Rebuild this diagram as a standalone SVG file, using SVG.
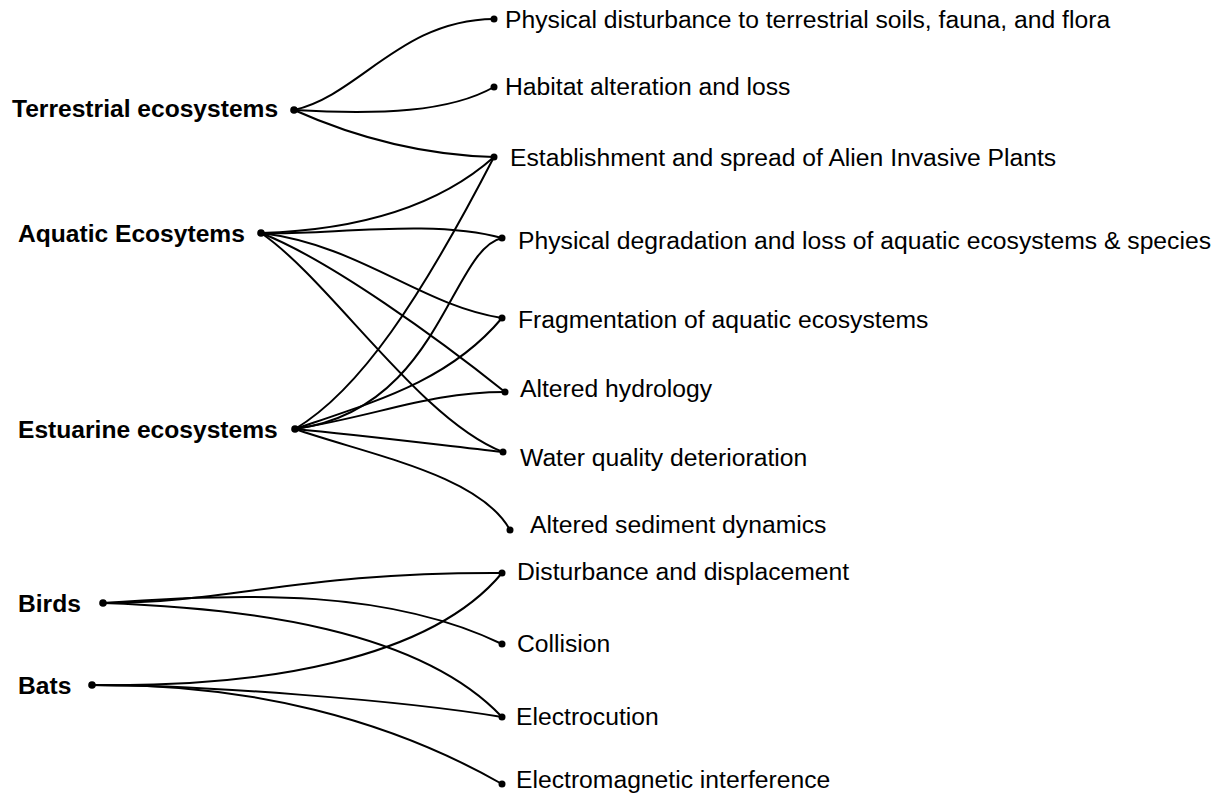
<svg xmlns="http://www.w3.org/2000/svg" width="1225" height="796" viewBox="0 0 1225 796">
<style>
.bg{fill:#fff}
.src text{font-family:"Liberation Sans",Arial,sans-serif;font-size:24.6px;font-weight:bold;fill:#000}
.tgt text{font-family:"Liberation Sans",Arial,sans-serif;font-size:24.7px;fill:#000}
.dot{fill:#000}
#connectors path{fill:none;stroke:#000;stroke-width:2}
</style>
<rect class="bg" x="0" y="0" width="1225" height="796"/>
<g id="connectors">
<path d="M294,110 C360,95 400,20 494,19"/>
<path d="M294,110 C380,115 450,112 494,87"/>
<path d="M294,110 C350,135 420,155 494,157"/>
<path d="M261,233 C360,230 440,205 494,157"/>
<path d="M261,233 C320,236 430,218 502,238"/>
<path d="M261,233 C360,245 420,305 502,318"/>
<path d="M261,233 C330,260 440,340 505,392"/>
<path d="M261,233 C330,280 420,420 503,452"/>
<path d="M295,429 C360,390 420,300 494,157"/>
<path d="M295,429 C440,410 450,250 502,238"/>
<path d="M295,429 C380,400 450,380 502,318"/>
<path d="M295,429 C380,415 430,392 505,392"/>
<path d="M295,429 C360,435 440,445 503,452"/>
<path d="M295,429 C370,455 480,475 510,530"/>
<path d="M103,603 C230,603 300,572 502,573"/>
<path d="M103,603 C250,592 390,590 502,644"/>
<path d="M103,603 C250,608 420,630 502,717"/>
<path d="M92,685 C260,688 430,660 502,573"/>
<path d="M92,685 C200,685 400,700 502,717"/>
<path d="M92,685 C250,683 390,720 502,784"/>
</g>
<g id="n-terrestrial" class="src"><text x="12" y="117">Terrestrial ecosystems</text><circle class="dot" cx="294" cy="110" r="3.8"/></g>
<g id="n-aquatic" class="src"><text x="18" y="242">Aquatic Ecosytems</text><circle class="dot" cx="261" cy="233" r="3.8"/></g>
<g id="n-estuarine" class="src"><text x="18" y="438">Estuarine ecosystems</text><circle class="dot" cx="295" cy="429" r="3.8"/></g>
<g id="n-birds" class="src"><text x="18" y="612">Birds</text><circle class="dot" cx="103" cy="603" r="3.8"/></g>
<g id="n-bats" class="src"><text x="18" y="694">Bats</text><circle class="dot" cx="92" cy="685" r="3.8"/></g>
<g id="t-physdist" class="tgt"><circle class="dot" cx="494" cy="19" r="3.5"/><text x="505" y="28">Physical disturbance to terrestrial soils, fauna, and flora</text></g>
<g id="t-habitat" class="tgt"><circle class="dot" cx="494" cy="87" r="3.5"/><text x="505" y="95">Habitat alteration and loss</text></g>
<g id="t-establish" class="tgt"><circle class="dot" cx="494" cy="157" r="3.5"/><text x="510" y="166">Establishment and spread of Alien Invasive Plants</text></g>
<g id="t-physdeg" class="tgt"><circle class="dot" cx="502" cy="238" r="3.5"/><text x="518" y="249">Physical degradation and loss of aquatic ecosystems &amp; species</text></g>
<g id="t-frag" class="tgt"><circle class="dot" cx="502" cy="318" r="3.5"/><text x="518" y="328">Fragmentation of aquatic ecosystems</text></g>
<g id="t-hydro" class="tgt"><circle class="dot" cx="505" cy="392" r="3.5"/><text x="520" y="397">Altered hydrology</text></g>
<g id="t-water" class="tgt"><circle class="dot" cx="503" cy="452" r="3.5"/><text x="520" y="466">Water quality deterioration</text></g>
<g id="t-sediment" class="tgt"><circle class="dot" cx="510" cy="530" r="3.5"/><text x="530" y="533">Altered sediment dynamics</text></g>
<g id="t-disturb" class="tgt"><circle class="dot" cx="502" cy="573" r="3.5"/><text x="517" y="580">Disturbance and displacement</text></g>
<g id="t-collision" class="tgt"><circle class="dot" cx="502" cy="644" r="3.5"/><text x="517" y="652">Collision</text></g>
<g id="t-electro" class="tgt"><circle class="dot" cx="502" cy="717" r="3.5"/><text x="516" y="725">Electrocution</text></g>
<g id="t-emi" class="tgt"><circle class="dot" cx="502" cy="784" r="3.5"/><text x="516" y="788">Electromagnetic interference</text></g>
</svg>
